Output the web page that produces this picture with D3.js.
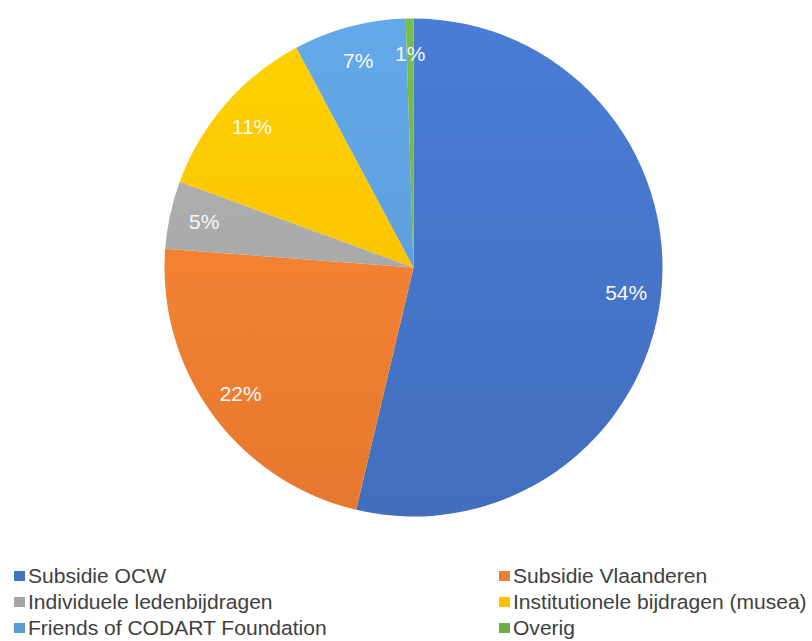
<!DOCTYPE html>
<html>
<head>
<meta charset="utf-8">
<script src="https://cdn.jsdelivr.net/npm/d3@7"></script>
<style>
  html, body { margin: 0; padding: 0; background: #ffffff; }
  svg { display: block; }
</style>
</head>
<body>
<svg id="chart" width="812" height="641"></svg>
<script>
const categories = ["Subsidie OCW", "Subsidie Vlaanderen", "Individuele ledenbijdragen", "Institutionele bijdragen (musea)", "Friends of CODART Foundation", "Overig"];
const values = [53.7, 22.5, 4.4, 11.6, 7.3, 0.5];
const labels = ["54%", "22%", "5%", "11%", "7%", "1%"];
const colors = ["#4472c4", "#ed7d31", "#a5a5a5", "#ffc000", "#5b9bd5", "#70ad47"];

const svg = d3.select("#chart");
const cx = 413.5, cy = 267.5, R = 249;

const defs = svg.append("defs");
colors.forEach((c, i) => {
  const g = defs.append("linearGradient")
    .attr("id", "grad" + i)
    .attr("gradientUnits", "userSpaceOnUse")
    .attr("x1", 0).attr("y1", -R).attr("x2", 0).attr("y2", R);
  g.append("stop").attr("offset", "0%").attr("stop-color", d3.color(c).brighter(0.25));
  g.append("stop").attr("offset", "100%").attr("stop-color", d3.color(c).darker(0.1));
});

const pie = d3.pie().sort(null).value(d => d)(values);
const arc = d3.arc().innerRadius(0).outerRadius(R);
const labelArc = d3.arc().innerRadius(R * 0.86).outerRadius(R * 0.86);

const g = svg.append("g").attr("transform", `translate(${cx},${cy})`);
g.selectAll("path.slice").data(pie).enter().append("path")
  .attr("class", "slice")
  .attr("d", arc)
  .attr("fill", (d, i) => `url(#grad${i})`);

g.selectAll("text.lbl").data(pie).enter().append("text")
  .attr("class", "lbl")
  .attr("transform", d => {
    const p = labelArc.centroid(d);
    return `translate(${p[0]},${p[1]}) scale(1.05,1)`;
  })
  .attr("text-anchor", "middle")
  .attr("dominant-baseline", "central")
  .attr("fill", "#f8f8f8")
  .attr("font-family", "Liberation Sans, Arial, sans-serif")
  .attr("font-size", 20)
  .text((d, i) => labels[i]);

// Legend
const legendCols = [14, 499];
const legendRows = [576, 602, 628];
const lg = svg.append("g");
categories.forEach((name, i) => {
  const x = legendCols[i % 2];
  const y = legendRows[Math.floor(i / 2)];
  lg.append("rect").attr("x", x).attr("y", y - 5).attr("width", 11).attr("height", 10).attr("fill", colors[i]);
  lg.append("text")
    .attr("transform", `translate(${x + 14},${y}) scale(1.08,1)`)
    .attr("dominant-baseline", "central")
    .attr("fill", "#404040")
    .attr("font-family", "Liberation Sans, Arial, sans-serif")
    .attr("font-size", 19.5)
    .text(name);
});
</script>
</body>
</html>
